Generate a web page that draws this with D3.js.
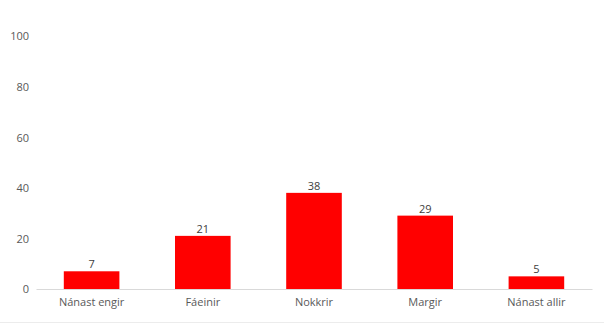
<!DOCTYPE html>
<html lang="is">
    <head>
        <meta charset="UTF-8">
        <title>Chart</title>
        <style>
            body { margin: 0; background: #fff; }
            svg { display: block; }
            svg text { font-family: "Open Sans", sans-serif; }
        </style>
    </head>
    <body>
        <script src="https://d3js.org/d3.v7.min.js"></script>
        <script>
            const categories = ["Nánast engir", "Fáeinir", "Nokkrir", "Margir", "Nánast allir"];
            const values = [7, 21, 38, 29, 5];
            const yTicks = [0, 20, 40, 60, 80, 100];

            const width = 604, height = 324;
            const margin = {top: 36, right: 12, bottom: 35, left: 36};

            const svg = d3.select("body").append("svg")
                .attr("width", width)
                .attr("height", height);

            const x = d3.scaleBand()
                .domain(categories)
                .range([margin.left, width - margin.right])
                .paddingInner(0.5)
                .paddingOuter(0.25);

            const y = d3.scaleLinear()
                .domain([0, 100])
                .range([height - margin.bottom, margin.top]);

            // y axis labels only, no line
            const yAxis = svg.append("g")
                .attr("transform", `translate(${margin.left - 7},0)`)
                .call(d3.axisLeft(y).tickValues(yTicks).tickSize(0).tickPadding(0));
            yAxis.select(".domain").remove();
            yAxis.selectAll("text")
                .attr("dy", "0.35em")
                .attr("fill", "#595959")
                .style("font-size", "11px")
                .style("font-family", "'Open Sans', sans-serif");

            svg.selectAll("rect.bar")
                .data(values)
                .enter()
                .append("rect")
                .attr("class", "bar")
                .attr("x", (d, i) => x(categories[i]))
                .attr("y", d => y(d))
                .attr("width", x.bandwidth())
                .attr("height", d => y(0) - y(d))
                .attr("fill", "#ff0000");

            // baseline
            const xAxis = svg.append("g")
                .attr("transform", `translate(0,${y(0)})`)
                .call(d3.axisBottom(x).tickSize(0).tickPadding(9));
            xAxis.select(".domain").attr("stroke", "#d9d9d9");
            xAxis.selectAll("text")
                .attr("dy", "0.71em")
                .attr("fill", "#595959")
                .style("font-size", "11px")
                .style("font-family", "'Open Sans', sans-serif");

            svg.selectAll("text.label")
                .data(values)
                .enter()
                .append("text")
                .attr("class", "label")
                .attr("x", (d, i) => x(categories[i]) + x.bandwidth() / 2)
                .attr("y", d => y(d) - 3)
                .attr("text-anchor", "middle")
                .attr("fill", "#404040")
                .style("font-size", "11px")
                .text(d => d);

            svg.append("line")
                .attr("x1", 0).attr("x2", width)
                .attr("y1", 322.5).attr("y2", 322.5)
                .attr("stroke", "#ececec");
        </script>
    </body>
</html>
